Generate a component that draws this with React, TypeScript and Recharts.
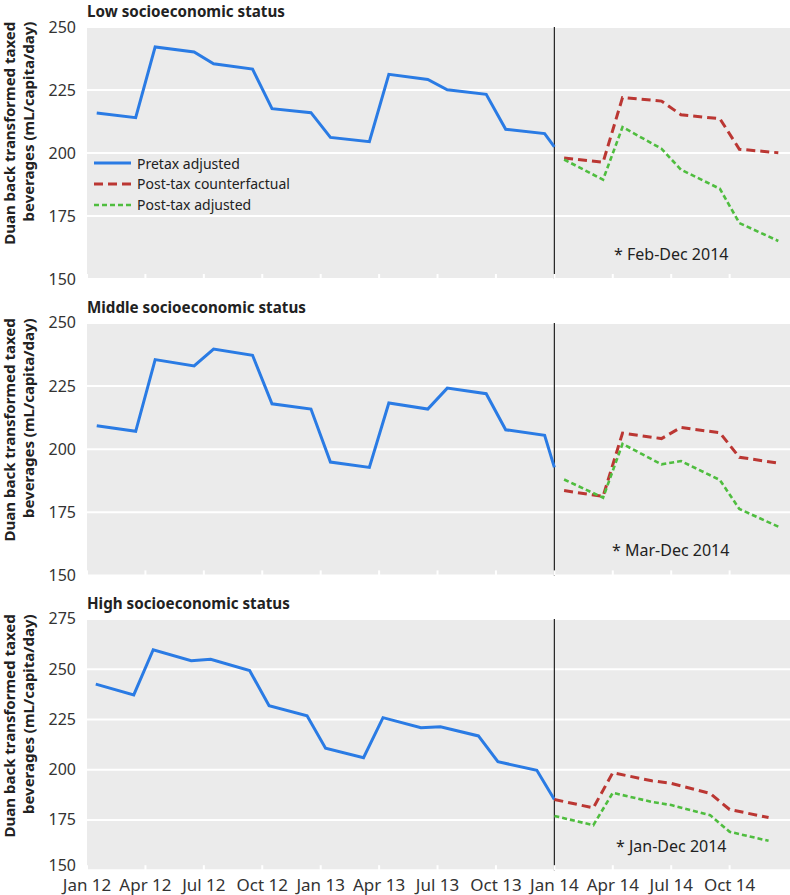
import React from "react";
import { LineChart, Line, XAxis, YAxis, CartesianGrid, ReferenceLine, Legend } from "recharts";

// Month index from Jan 2012 (0) — quarterly ticks
const QUARTER_TICKS = [0, 3, 6, 9, 12, 15, 18, 21, 24, 27, 30, 33];
const QUARTER_LABELS = [
  "Jan 12", "Apr 12", "Jul 12", "Oct 12", "Jan 13", "Apr 13",
  "Jul 13", "Oct 13", "Jan 14", "Apr 14", "Jul 14", "Oct 14",
];

const PRE_MONTHS = [0.5, 2.5, 3.5, 5.5, 6.5, 8.5, 9.5, 11.5, 12.5, 14.5, 15.5, 17.5, 18.5, 20.5, 21.5, 23.5, 24];
const POST_MONTHS = [24.5, 26.5, 27.5, 29.5, 30.5, 32.5, 33.5, 35.5];
const HIGH_PRE_MONTHS = [0.45, 2.4, 3.4, 5.35, 6.35, 8.35, 9.35, 11.3, 12.25, 14.2, 15.2, 17.15, 18.15, 20.1, 21.1, 23.1, 24];
const HIGH_POST_MONTHS = [24, 26, 27, 29, 30, 32, 33, 35];

const LOW_PRETAX = [215.9, 214.0, 242.1, 240.1, 235.4, 233.3, 217.6, 216.0, 206.2, 204.5, 231.2, 229.2, 225.1, 223.3, 209.4, 207.7, 202.4];
const LOW_COUNTER = [198.0, 196.3, 222.0, 220.6, 215.2, 213.6, 201.5, 200.1];
const LOW_ADJUSTED = [197.4, 189.4, 210.3, 201.7, 193.4, 185.8, 172.2, 165.1];

const MID_PRETAX = [209.3, 207.1, 235.5, 233.0, 239.7, 237.2, 218.0, 215.9, 194.9, 192.8, 218.3, 215.9, 224.2, 222.0, 207.7, 205.5, 192.8];
const MID_COUNTER = [183.6, 181.3, 206.4, 204.2, 208.6, 206.5, 196.8, 194.5];
const MID_ADJUSTED = [188.0, 180.8, 202.1, 194.0, 195.3, 187.8, 176.3, 169.3];

const HIGH_PRETAX = [242.6, 237.2, 259.7, 254.2, 255.0, 249.4, 231.8, 226.8, 210.7, 206.0, 225.9, 220.9, 221.4, 216.8, 204.0, 199.7, 185.2];
const HIGH_COUNTER = [185.2, 181.0, 198.5, 194.5, 193.2, 188.2, 180.2, 176.2];
const HIGH_ADJUSTED = [177.0, 172.4, 188.5, 184.0, 182.4, 177.4, 169.1, 164.6];

const Y_TICKS_250 = [150, 175, 200, 225, 250];
const Y_TICKS_275 = [150, 175, 200, 225, 250, 275];

const FONT = "'Noto Sans', 'Open Sans', sans-serif";
const BLUE = "#2a7be4";
const RED = "#bb3733";
const GREEN = "#4fbd3f";
const BG = "#ebebeb";

const SERIES_STYLE: Record<string, { color: string; dash?: string; width: number }> = {
  "Pretax adjusted": { color: BLUE, width: 3 },
  "Post-tax counterfactual": { color: RED, dash: "9 5", width: 3 },
  "Post-tax adjusted": { color: GREEN, dash: "5 3", width: 2.6 },
};

const toPoints = (months: number[], values: number[]) => months.map((m, i) => ({ m, v: values[i] }));

function LegendBox() {
  return (
    <div style={{ fontFamily: FONT, fontSize: 14, color: "#222" }}>
      {Object.entries(SERIES_STYLE).map(([name, s]) => (
        <div key={name} style={{ display: "flex", alignItems: "center", height: 20.7 }}>
          <svg width={37} height={6} style={{ marginRight: 6 }}>
            <line x1={0} x2={37} y1={3} y2={3} stroke={s.color} strokeWidth={s.width} strokeDasharray={s.dash} />
          </svg>
          <span>{name}</span>
        </div>
      ))}
    </div>
  );
}

type PanelProps = {
  title: string;
  note: string;
  plotTop: number;
  plotBottom: number;
  preMonths: number[];
  postMonths: number[];
  pretax: number[];
  counter: number[];
  adjusted: number[];
  yMax: number;
  yTicks: number[];
  showLegend?: boolean;
  showXLabels?: boolean;
};

const PAD_TOP = 16;
const X_AXIS_H = 30;

function Panel(p: PanelProps) {
  const chartTop = p.plotTop - PAD_TOP;
  const height = p.plotBottom - p.plotTop + PAD_TOP + X_AXIS_H;

  const renderXTick = (props: any) => {
    const { x, y, payload } = props;
    const idx = QUARTER_TICKS.indexOf(payload.value);
    return (
      <g>
        <line x1={x} x2={x} y1={y - 5} y2={y} stroke="#fff" strokeWidth={2} />
        {p.showXLabels && (
          <text x={x} y={y + 21} textAnchor="middle" fontSize={17} fontFamily={FONT} fill="#333">
            {QUARTER_LABELS[idx]}
          </text>
        )}
      </g>
    );
  };

  // bottom label lifted a little when x labels sit right below it
  const renderYTick = (props: any) => {
    const { x, y, payload } = props;
    const lift = p.showXLabels && payload.value === 150 ? -5 : 0;
    return (
      <text x={x} y={y + lift} dy={5.5} textAnchor="end" fontSize={16} fontFamily={FONT} fill="#333">
        {payload.value}
      </text>
    );
  };

  return (
    <div style={{ position: "absolute", left: 0, top: chartTop }}>
      <LineChart width={790} height={height} margin={{ top: PAD_TOP, right: 0, bottom: 0, left: 0 }}>
        <CartesianGrid horizontal vertical={false} stroke="#fff" strokeWidth={2} fill={BG} />
        <XAxis
          dataKey="m"
          type="number"
          domain={[0, 36.1]}
          ticks={QUARTER_TICKS}
          interval={0}
          height={X_AXIS_H}
          tickSize={0}
          tickMargin={0}
          axisLine={false}
          tickLine={false}
          tick={renderXTick}
          allowDataOverflow
        />
        <YAxis
          type="number"
          domain={[150, p.yMax]}
          ticks={p.yTicks}
          interval={0}
          width={87}
          axisLine={false}
          tickLine={false}
          tickMargin={5}
          tick={renderYTick}
        />
        <ReferenceLine x={24} stroke="#222" strokeWidth={1.2} ifOverflow="extendDomain" />
        <Line
          data={toPoints(p.preMonths, p.pretax)}
          dataKey="v"
          name="Pretax adjusted"
          stroke={BLUE}
          strokeWidth={3}
          dot={false}
          isAnimationActive={false}
        />
        <Line
          data={toPoints(p.postMonths, p.counter)}
          dataKey="v"
          name="Post-tax counterfactual"
          stroke={RED}
          strokeWidth={3}
          strokeDasharray="9 5"
          dot={false}
          isAnimationActive={false}
        />
        <Line
          data={toPoints(p.postMonths, p.adjusted)}
          dataKey="v"
          name="Post-tax adjusted"
          stroke={GREEN}
          strokeWidth={2.6}
          strokeDasharray="5 3"
          dot={false}
          isAnimationActive={false}
        />
        {p.showLegend && (
          <Legend
            layout="vertical"
            align="center"
            verticalAlign="middle"
            content={() => <LegendBox />}
            wrapperStyle={{ left: 94, top: 163.3 - chartTop - 10.35, width: "auto" }}
          />
        )}
      </LineChart>
    </div>
  );
}

const PANELS: PanelProps[] = [
  {
    title: "Low socioeconomic status", note: "* Feb-Dec 2014",
    plotTop: 26.7, plotBottom: 278.7,
    preMonths: PRE_MONTHS, postMonths: POST_MONTHS,
    pretax: LOW_PRETAX, counter: LOW_COUNTER, adjusted: LOW_ADJUSTED,
    yMax: 250, yTicks: Y_TICKS_250, showLegend: true,
  },
  {
    title: "Middle socioeconomic status", note: "* Mar-Dec 2014",
    plotTop: 323.3, plotBottom: 575.7,
    preMonths: PRE_MONTHS, postMonths: POST_MONTHS,
    pretax: MID_PRETAX, counter: MID_COUNTER, adjusted: MID_ADJUSTED,
    yMax: 250, yTicks: Y_TICKS_250,
  },
  {
    title: "High socioeconomic status", note: "* Jan-Dec 2014",
    plotTop: 619.3, plotBottom: 870.5,
    preMonths: HIGH_PRE_MONTHS, postMonths: HIGH_POST_MONTHS,
    pretax: HIGH_PRETAX, counter: HIGH_COUNTER, adjusted: HIGH_ADJUSTED,
    yMax: 275, yTicks: Y_TICKS_275, showXLabels: true,
  },
];

const NOTE_POS = [
  { x: 614, y: 260 },
  { x: 612, y: 556 },
  { x: 616, y: 852 },
];

export default function App() {
  return (
    <div style={{ position: "absolute", left: 0, top: 0, width: 790, height: 895, background: "#fff", overflow: "hidden" }}>
      {PANELS.map((p) => (
        <Panel key={p.title} {...p} />
      ))}
      <svg width={790} height={895} style={{ position: "absolute", left: 0, top: 0, pointerEvents: "none" }}>
        {PANELS.map((p, i) => (
          <g key={p.title} fontFamily={FONT}>
            <text x={87} y={p.plotTop - 10} fontSize={15.2} fontWeight={700} fill="#222">{p.title}</text>
            <text transform={`translate(15, ${p.plotTop - 5}) rotate(-90)`} textAnchor="end" fontSize={15} fontWeight={700} fill="#222">
              Duan back transformed taxed
            </text>
            <text transform={`translate(34, ${p.plotTop - 5}) rotate(-90)`} textAnchor="end" fontSize={15} fontWeight={700} fill="#222">
              beverages (mL/capita/day)
            </text>
            <text x={NOTE_POS[i].x} y={NOTE_POS[i].y} fontSize={16} fill="#222">{p.note}</text>
          </g>
        ))}
      </svg>
    </div>
  );
}
